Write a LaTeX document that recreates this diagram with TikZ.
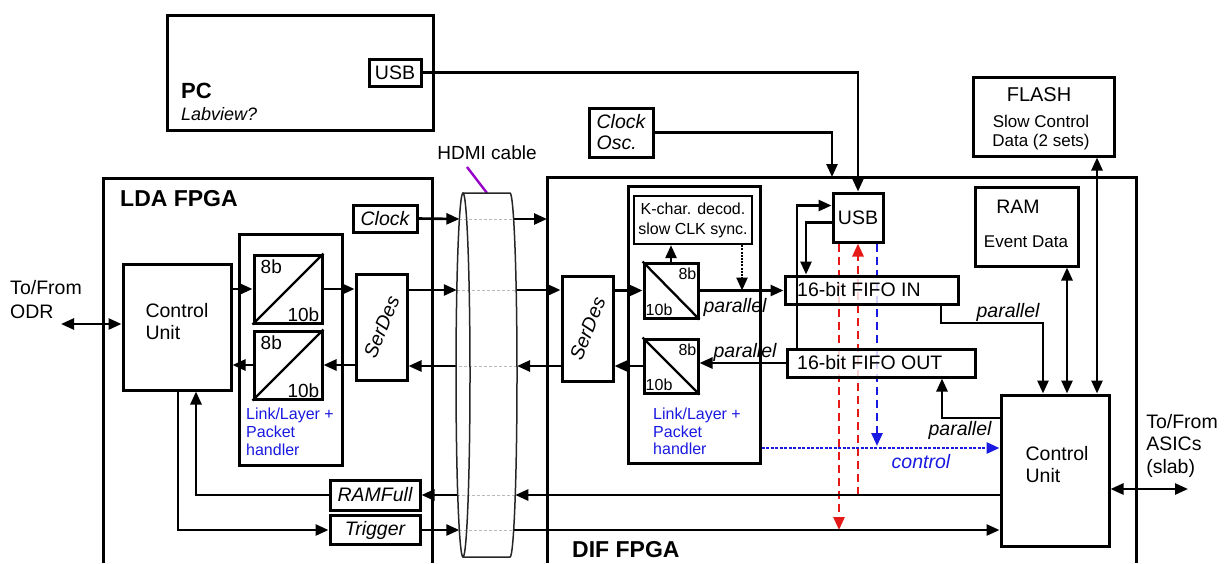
\documentclass[tikz,border=0pt]{standalone}
\usepackage{fontspec}
\setmainfont{Liberation Sans}
\usetikzlibrary{arrows.meta,calc}
\pgfdeclarelayer{bg}
\pgfsetlayers{bg,main}
\definecolor{myblue}{RGB}{25,25,225}
\definecolor{myred}{RGB}{230,25,25}
\definecolor{mypurple}{RGB}{150,0,200}
\newcommand\fsz[2]{\fontsize{#1}{#2}\selectfont}
\begin{document}
\begin{tikzpicture}[x=1pt,y=-1pt,
  box/.style={draw,line width=3pt,inner sep=0pt,align=center,font=\fsz{19.5}{22}},
  thinbox/.style={draw,line width=2.3pt,inner sep=0pt,align=center},
  tip/.tip={Triangle[length=13pt,width=11pt]},
  ar/.style={line width=2.6pt,-tip},
  dar/.style={line width=2.6pt,tip-tip},
  incable/.style={line width=1pt,gray!55,dash pattern=on 3pt off 2pt},
  cable/.style={line width=1.5pt,black!85},
  lbl/.style={inner sep=0pt,align=center,font=\fsz{19.5}{22}},
  itl/.style={inner sep=0pt,font=\fsz{19.5}{22}\itshape},
  redd/.style={line width=2.6pt,myred,dash pattern=on 8pt off 5pt,-tip},
  blued/.style={line width=2.6pt,myblue,dash pattern=on 8pt off 5pt,-tip},
  bluedot/.style={line width=2.8pt,myblue,dash pattern=on 3pt off 1.5pt,-tip},
  blackdot/.style={line width=2.4pt,dash pattern=on 2pt off 1.2pt,-tip},
]
\useasboundingbox (0,0) rectangle (1228,563);

% FPGA frames
\draw[line width=3pt] (103,563) -- (103,178) -- (432,178) -- (432,563);
\draw[line width=3pt] (547,563) -- (547,177) -- (1136,177) -- (1136,563);
\node[anchor=west,inner sep=0pt,font=\bfseries\fsz{23}{26}] (ldat) at (120,199) {LDA FPGA};
\node[anchor=west,inner sep=0pt,font=\bfseries\fsz{23}{26}] (dift) at (572,550) {DIF FPGA};

% PC
\node[box,minimum width=266pt,minimum height=115pt] (pc) at (300,72.5) {};
\node[anchor=base west,inner sep=0pt,font=\bfseries\fsz{22}{26}] (pct) at (181,98) {PC};
\node[anchor=base west,inner sep=0pt,font=\itshape\fsz{18}{20}] (lv) at (181,120) {Labview?};
\node[box,minimum width=52pt,minimum height=27pt] (pcusb) at (395,72.5) {USB};

% HDMI cable
\node[lbl,font=\fsz{19}{22}] (hdmi) at (487,153) {HDMI cable};
\coordinate (pstart) at (467,167);
\coordinate (ptop) at (487,193);
\draw[line width=2.4pt,mypurple] (pstart) -- (ptop);

% LDA side
\node[box,font=\itshape\fsz{19.5}{22},minimum width=64pt,minimum height=27pt] (clk) at (385,218.5) {Clock};
\node[box,minimum width=108pt,minimum height=126pt] (lcu) at (177,327) {};
\node[lbl,align=left] (lcut) at (177,322) {Control\\Unit};
\node[box,minimum width=103pt,minimum height=231pt] (llink) at (290.5,349.5) {};
\node[anchor=north west,inner sep=0pt,align=left,text=myblue,font=\fsz{16}{18}] (llinkt) at (246,408) {Link/Layer +\\Packet\\handler};
\node[box,minimum width=68pt,minimum height=68pt] (l1) at (288,289) {};
\draw[line width=2.3pt] (l1.south west) -- (l1.north east);
\node[anchor=north west,inner sep=0pt,font=\fsz{19}{21}] at ($(l1.north west)+(8,6)$) {8b};
\node[anchor=south east,inner sep=0pt,font=\fsz{19}{21}] at ($(l1.south east)+(-4,-3)$) {10b};
\node[box,minimum width=68pt,minimum height=68pt] (l2) at (288,365) {};
\draw[line width=2.3pt] (l2.south west) -- (l2.north east);
\node[anchor=north west,inner sep=0pt,font=\fsz{19}{21}] at ($(l2.north west)+(8,6)$) {8b};
\node[anchor=south east,inner sep=0pt,font=\fsz{19}{21}] at ($(l2.south east)+(-4,-3)$) {10b};
\node[box,minimum width=51pt,minimum height=106pt] (lser) at (381.5,327) {};
\node[lbl,font=\itshape\fsz{19.5}{22},rotate=68] at (lser.center) {SerDes};
\node[box,font=\itshape\fsz{19.5}{22},minimum width=90pt,minimum height=30pt] (ramfull) at (375,495) {RAMFull};
\node[box,font=\itshape\fsz{19.5}{22},minimum width=90pt,minimum height=29pt] (trig) at (375,530) {Trigger};
\node[lbl,align=left,font=\fsz{19.5}{24}] (odrt) at (46,300) {To/From\\ODR};
\coordinate (odr) at (61,324);

% DIF side
\node[box,font=\itshape\fsz{19.5}{21},minimum width=64pt,minimum height=49pt,align=left] (osc) at (621,132.5) {Clock\\Osc.};
\node[box,minimum width=141pt,minimum height=79pt] (flash) at (1043.5,116.5) {};
\node[lbl,font=\fsz{20}{22}] at (1039,95) {FLASH};
\node[lbl,font=\fsz{17}{19}] at (1041,132.5) {Slow Control\\Data (2 sets)};
\node[box,minimum width=103pt,minimum height=79pt] (ram) at (1026.5,226.5) {};
\node[lbl] at (1018,207) {RAM};
\node[lbl,font=\fsz{17}{19}] at (1026,242) {Event Data};
\node[box,minimum width=50pt,minimum height=49pt] (usb) at (858,217.5) {USB};
\node[box,minimum width=132pt,minimum height=277pt] (dlink) at (694,324.5) {};
\node[thinbox,minimum width=118pt,minimum height=48pt,font=\fsz{16}{20}] (kc) at (693,220) {K-char. decod.\\slow CLK sync.};
\node[anchor=north west,inner sep=0pt,align=left,text=myblue,font=\fsz{16}{17.5}] (dlinkt) at (653,408) {Link/Layer +\\Packet\\handler};
\node[box,minimum width=54pt,minimum height=55pt] (d1) at (671,290.5) {};
\draw[line width=2.3pt] (d1.north west) -- (d1.south east);
\node[anchor=north east,inner sep=0pt,font=\fsz{16}{18}] at ($(d1.north east)+(-3,6)$) {8b};
\node[anchor=south west,inner sep=0pt,font=\fsz{16}{18}] at ($(d1.south west)+(3,-4)$) {10b};
\node[box,minimum width=54pt,minimum height=54pt] (d2) at (671,366) {};
\draw[line width=2.3pt] (d2.north west) -- (d2.south east);
\node[anchor=north east,inner sep=0pt,font=\fsz{16}{18}] at ($(d2.north east)+(-3,6)$) {8b};
\node[anchor=south west,inner sep=0pt,font=\fsz{16}{18}] at ($(d2.south west)+(3,-4)$) {10b};
\node[box,minimum width=51pt,minimum height=105pt] (dser) at (587.5,328.5) {};
\node[lbl,font=\itshape\fsz{19.5}{22},rotate=68] at (dser.center) {SerDes};
\node[box,minimum width=173pt,minimum height=28pt,fill=white,fill opacity=0.8,text opacity=1] (fifoin) at (871.5,290) {};
\node[lbl,anchor=west] (fifoint) at (797,290) {16-bit FIFO IN};
\node[box,minimum width=188pt,minimum height=28pt,fill=white,fill opacity=0.8,text opacity=1] (fifoout) at (881,363) {};
\node[lbl,anchor=west] (fifooutt) at (797,363) {16-bit FIFO OUT};
\node[box,minimum width=108pt,minimum height=151pt] (dcu) at (1055,470.5) {};
\node[lbl,align=left] (dcut) at (1057,465) {Control\\Unit};
\node[lbl,align=left,font=\fsz{19.5}{22.5}] (asict) at (1182,445.5) {To/From\\ASICs\\(slab)};
\coordinate (asic) at (1188,489);

% labels
\node[itl] at (735,307) {parallel};
\node[itl] at (745,352) {parallel};
\node[itl] at (1008,312) {parallel};
\node[itl] at (960,430) {parallel};
\node[itl,text=myblue] at (921,462) {control};

% cable crossing points
\coordinate (cl1) at (459.4,219); \coordinate (cr1) at (513.6,219);
\coordinate (cl2) at (456.8,290); \coordinate (cr2) at (516.2,290);
\coordinate (cl3) at (456,366);   \coordinate (cr3) at (517,366);
\coordinate (cl4) at (457.7,495); \coordinate (cr4) at (515.3,495);
\coordinate (cl5) at (459.3,530); \coordinate (cr5) at (513.7,530);
\coordinate (difclk) at (832,177);

% dashed USB lines (behind)
\begin{pgfonlayer}{bg}
\draw[redd] (839,0 |- usb.south) -- (839,530);
\draw[redd] (858,495) -- (858,0 |- usb.south);
\draw[blued] (877,0 |- usb.south) -- (877,446);
\end{pgfonlayer}

% connectors across cable
\draw[ar] (clk.east) -- (cl1);
\draw[incable] (cl1) -- (cr1);
\draw[ar] (cr1) -- (547,219);
\draw[ar] (lser.east |- cl2) -- (cl2);
\draw[incable] (cl2) -- (cr2);
\draw[ar] (cr2) -- (dser.west |- cr2);
\draw[ar] (dser.west |- cr3) -- (cr3);
\draw[incable] (cr3) -- (cl3);
\draw[ar] (cl3) -- (lser.east |- cl3);
\draw[ar] (dcu.west |- cr4) -- (cr4);
\draw[incable] (cr4) -- (cl4);
\draw[ar] (cl4) -- (ramfull.east);
\draw[ar] (trig.east |- cl5) -- (cl5);
\draw[incable] (cl5) -- (cr5);
\draw[ar] (cr5) -- (dcu.west |- cr5);

% cable outline
\draw[cable] (463,375) ellipse [x radius=7pt, y radius=182pt];
\draw[cable] (463,193) -- (510,193) arc[start angle=90,end angle=-90,x radius=7pt,y radius=182pt] -- (463,557);

% top connectors
\draw[ar] (pcusb.east) -- (usb.north |- pcusb.east) -- (usb.north);
\draw[ar] (osc.east) -| (difclk);

% LDA internal
\draw[dar] (odr) -- (lcu.west |- odr);
\draw[ar] (lcu.east |- l1.west) -- (l1.west);
\draw[ar] (l1.east) -- (lser.west |- l1.east);
\draw[ar] (lser.west |- l2.east) -- (l2.east);
\draw[ar] (l2.west) -- (lcu.east |- l2.west);
\draw[ar] (ramfull.west) -| ($(lcu.south)+(19,0)$);
\draw[ar] ($(lcu.south)+(1,0)$) |- (trig.west);

% DIF internal
\draw[ar] (dser.east |- d1.west) -- (d1.west);
\draw[ar] (d1.east) -- (fifoin.west |- d1.east);
\draw[ar] (d1.north) -- (d1.north |- kc.south);
\draw[blackdot] (742,0 |- kc.south) -- (742,0 |- d1.east);
\draw[ar] (fifoout.west) -- (d2.east |- fifoout.west);
\draw[ar] (d2.west) -- (dser.east |- d2.west);
\draw[ar] (797,0 |- fifoout.north) |- ($(usb.north west)+(0,14)$);
\draw[ar] ($(usb.north west)+(0,31)$) -| (806,0 |- fifoin.north);
\draw[ar] (941,0 |- fifoin.south) -- (941,323) -| (1043,0 |- dcu.north);
\draw[dar] (1067,0 |- ram.south) -- (1067,0 |- dcu.north);
\draw[dar] (1097,0 |- flash.south) -- (1097,0 |- dcu.north);
\draw[ar] (dcu.west |- 0,418) -| (942,0 |- fifoout.south);
\draw[bluedot] (dlink.east |- 0,448) -- (dcu.west |- 0,448);
\draw[dar] (dcu.east |- asic) -- (asic);
\end{tikzpicture}
\end{document}
